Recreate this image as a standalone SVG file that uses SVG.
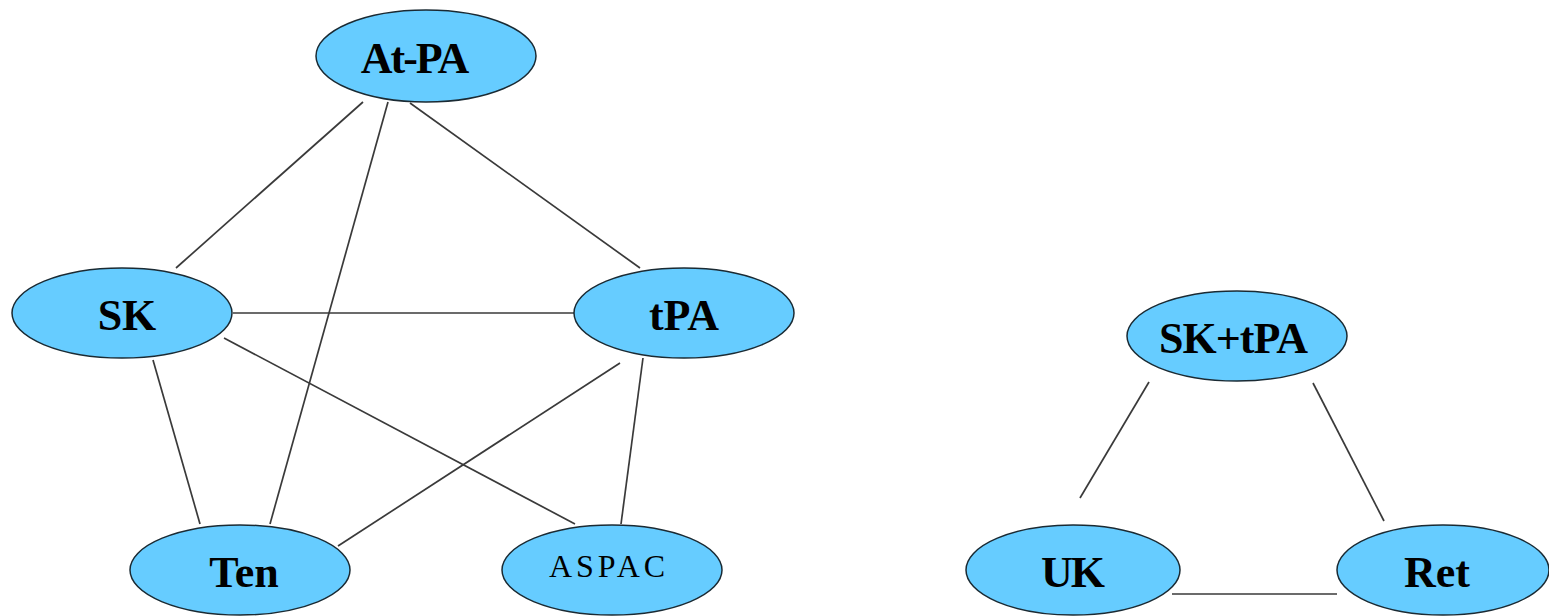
<svg xmlns="http://www.w3.org/2000/svg" width="1549" height="616" viewBox="0 0 1549 616">
  <style>
    .node ellipse { fill: #66ccff; stroke: #1a2a33; stroke-width: 1.5; }
    .node text { font-family: "Liberation Serif", "Times New Roman", serif; font-weight: bold; font-size: 44px; fill: #000; text-anchor: middle; dominant-baseline: central; }
    .node text.plain { font-weight: normal; font-size: 32px; letter-spacing: 4px; }
    #edges line { stroke: #3a3a3a; stroke-width: 1.7; }
  </style>
  <rect width="1549" height="616" fill="#fff"/>
  <g id="edges">
    <line x1="363" y1="102" x2="176" y2="268"/>
    <line x1="388" y1="102" x2="270" y2="524"/>
    <line x1="410" y1="103" x2="640" y2="268"/>
    <line x1="233" y1="313" x2="574" y2="313"/>
    <line x1="153" y1="360" x2="200" y2="524"/>
    <line x1="224" y1="338" x2="575" y2="524"/>
    <line x1="620" y1="363" x2="338" y2="546"/>
    <line x1="643" y1="358" x2="621" y2="524"/>
    <line x1="1149" y1="382" x2="1080" y2="498"/>
    <line x1="1313" y1="383" x2="1384" y2="521"/>
    <line x1="1172" y1="594" x2="1337" y2="594"/>
  </g>
  <g id="n-atpa" class="node"><ellipse cx="426" cy="56" rx="110" ry="46"/><text x="414" y="58" letter-spacing="-2">At-PA</text></g>
  <g id="n-sk" class="node"><ellipse cx="122" cy="313" rx="110" ry="45"/><text x="127" y="315">SK</text></g>
  <g id="n-tpa" class="node"><ellipse cx="684" cy="313" rx="110" ry="45"/><text x="684" y="315">tPA</text></g>
  <g id="n-ten" class="node"><ellipse cx="240" cy="570" rx="110" ry="45"/><text x="244" y="572">Ten</text></g>
  <g id="n-aspac" class="node"><ellipse cx="612" cy="570" rx="110" ry="45"/><text class="plain" x="609" y="566">ASPAC</text></g>
  <g id="n-sktpa" class="node"><ellipse cx="1237" cy="336" rx="110" ry="45"/><text x="1233" y="338" letter-spacing="-1">SK+tPA</text></g>
  <g id="n-uk" class="node"><ellipse cx="1073" cy="570" rx="107" ry="45"/><text x="1072" y="572" letter-spacing="-2">UK</text></g>
  <g id="n-ret" class="node"><ellipse cx="1443" cy="570" rx="106" ry="45"/><text x="1437" y="572">Ret</text></g>
</svg>
